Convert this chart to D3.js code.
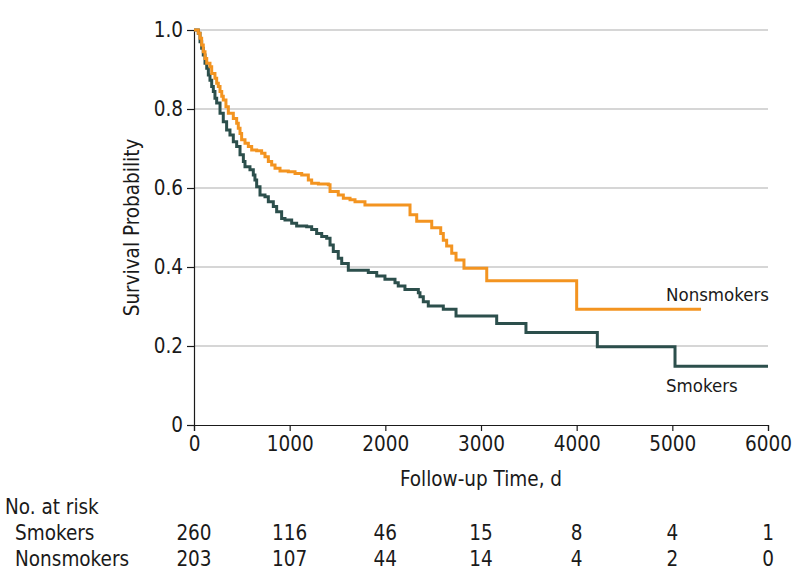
<!DOCTYPE html>
<html>
<head>
<meta charset="utf-8">
<script src="https://cdn.jsdelivr.net/npm/d3@7"></script>
<style>
  html, body { margin: 0; padding: 0; background: #fff; }
  svg text { font-family: "DejaVu Sans Condensed", "Liberation Sans Narrow", sans-serif; fill: #1a1a1a; }
</style>
</head>
<body>
<svg id="chart" width="794" height="588"></svg>
<script>
// ---- Data ----
const smokersTime = [0,45,63,80,97,115,133,150,167,185,202,219,237,272,306,341,376,411,446,481,516,533,585,620,637,655,690,742,777,829,864,916,951,1021,1073,1178,1230,1282,1335,1387,1422,1456,1508,1544,1613,1822,1910,1996,2101,2135,2205,2345,2362,2397,2449,2606,2739,3164,3470,4216,5028,6000];
const smokersSurv = [1.0,0.992,0.970,0.954,0.937,0.916,0.903,0.886,0.873,0.857,0.844,0.827,0.815,0.789,0.768,0.747,0.734,0.717,0.705,0.684,0.667,0.654,0.646,0.633,0.620,0.603,0.582,0.578,0.565,0.553,0.540,0.523,0.519,0.511,0.504,0.502,0.495,0.485,0.477,0.473,0.456,0.439,0.422,0.409,0.392,0.386,0.377,0.369,0.360,0.352,0.343,0.335,0.325,0.312,0.301,0.293,0.276,0.257,0.234,0.198,0.149,0.149];

const nonsmokersTime = [0,45,63,80,97,115,133,167,185,219,237,254,272,290,306,334,359,411,446,463,481,498,533,568,603,655,707,742,777,812,847,899,986,1056,1126,1195,1230,1300,1404,1422,1508,1561,1631,1683,1787,2258,2328,2485,2579,2606,2641,2694,2739,2822,3060,4000,5300];
const nonsmokersSurv = [1.0,0.992,0.979,0.962,0.945,0.928,0.916,0.907,0.890,0.878,0.865,0.857,0.844,0.832,0.823,0.806,0.789,0.776,0.764,0.751,0.738,0.722,0.713,0.705,0.696,0.694,0.688,0.679,0.667,0.658,0.650,0.643,0.641,0.637,0.633,0.620,0.612,0.610,0.608,0.591,0.582,0.574,0.570,0.565,0.557,0.532,0.516,0.4995,0.485,0.468,0.453,0.435,0.418,0.397,0.365,0.293,0.293];

const xTicks = [0,1000,2000,3000,4000,5000,6000];
const yTicks = [0,0.2,0.4,0.6,0.8,1.0];
const riskGroups = ["Smokers","Nonsmokers"];
const riskSmokers = [260,116,46,15,8,4,1];
const riskNonsmokers = [203,107,44,14,4,2,0];

// ---- Layout ----
const svg = d3.select("#chart");
const m = {left:194, top:30, width:574, height:395};
const x = d3.scaleLinear().domain([0,6000]).range([m.left, m.left+m.width]);
const y = d3.scaleLinear().domain([0,1]).range([m.top+m.height, m.top]);
const FS = 20.5;   // ticks, titles, table
const FL = 18.5;   // series labels
const colSmk = "#2c4f4c";
const colNon = "#f39420";

// gridlines
svg.append("g").selectAll("line").data(yTicks.filter(d=>d>0)).join("line")
  .attr("x1", x(0)).attr("x2", x(6000))
  .attr("y1", d=>y(d)).attr("y2", d=>y(d))
  .attr("stroke", "#d6d6d6").attr("stroke-width", 2);

// axes
const xAxis = svg.append("g").attr("transform", `translate(0,${y(0)})`)
  .call(d3.axisBottom(x).tickValues(xTicks).tickSize(6).tickPadding(5).tickFormat(d3.format("d")));
const yAxis = svg.append("g").attr("transform", `translate(${x(0)},0)`)
  .call(d3.axisLeft(y).tickValues(yTicks).tickSize(7).tickPadding(4).tickFormat(d => d===0 ? "0" : d3.format(".1f")(d)));
[xAxis, yAxis].forEach(a => {
  a.select(".domain").attr("stroke", "#1a1a1a").attr("stroke-width", 1.2);
  a.selectAll(".tick line").attr("stroke", "#1a1a1a").attr("stroke-width", 1.2);
  a.selectAll("text").attr("font-size", FS).attr("font-family", null).attr("fill", "#1a1a1a");
});

// curves
const line = d3.line().curve(d3.curveStepAfter).x(d=>x(d[0])).y(d=>y(d[1]));
const smk = smokersTime.map((t,i)=>[t, smokersSurv[i]]);
const non = nonsmokersTime.map((t,i)=>[t, nonsmokersSurv[i]]);
svg.append("path").datum(smk).attr("d", line).attr("fill","none").attr("stroke", colSmk).attr("stroke-width", 3);
svg.append("path").datum(non).attr("d", line).attr("fill","none").attr("stroke", colNon).attr("stroke-width", 3);

// series labels
svg.append("text").attr("x", 666).attr("y", 301).attr("font-size", FL).text("Nonsmokers");
svg.append("text").attr("x", 666).attr("y", 392).attr("font-size", FL).text("Smokers");

// axis titles
svg.append("text").attr("x", x(3000)).attr("y", 486).attr("text-anchor","middle").attr("font-size", FS).text("Follow-up Time, d");
svg.append("text").attr("transform", `translate(139,${y(0.5)}) rotate(-90)`).attr("text-anchor","middle").attr("font-size", FS).text("Survival Probability");

// number at risk table
svg.append("text").attr("x", 5).attr("y", 514).attr("font-size", FS).text("No. at risk");
const rows = [riskSmokers, riskNonsmokers];
rows.forEach((vals, r) => {
  const yy = 540 + r*25.5;
  svg.append("text").attr("x", 15).attr("y", yy).attr("font-size", FS).text(riskGroups[r]);
  svg.append("g").selectAll("text").data(vals).join("text")
    .attr("x", (d,i)=>x(xTicks[i])).attr("y", yy)
    .attr("text-anchor","middle").attr("font-size", FS).text(d=>d);
});
</script>
</body>
</html>
